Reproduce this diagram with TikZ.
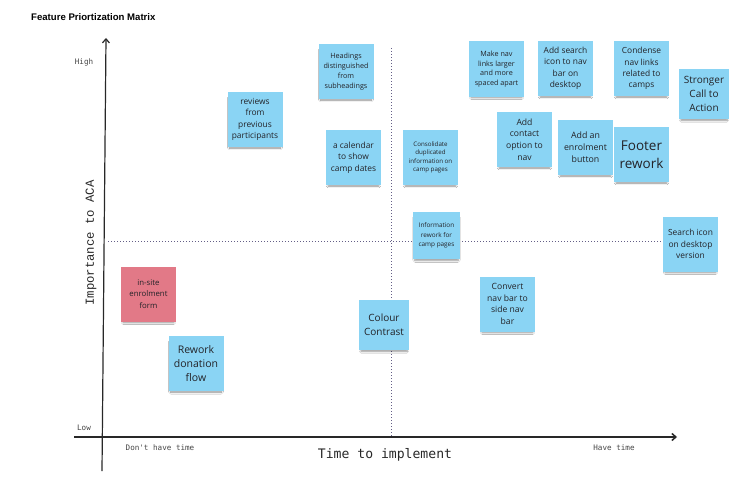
\documentclass[tikz,border=0pt]{standalone}
\usepackage{fontspec}
\setmainfont{Open Sans}
\newfontfamily\titlefont{Liberation Sans}
\newfontfamily\monoA{DejaVu Sans Mono}
\newfontfamily\monoB{Liberation Mono}
\usetikzlibrary{arrows.meta,shadows.blur}
\definecolor{noteblue}{RGB}{138,212,244}
\definecolor{notepink}{RGB}{226,121,135}
\definecolor{notetext}{RGB}{35,35,40}
\definecolor{axisgray}{RGB}{40,40,40}
\definecolor{dotline}{RGB}{100,95,135}
\definecolor{labelgray}{RGB}{70,70,70}
\tikzset{
  note/.style={fill=noteblue, draw=none, minimum width=55pt, minimum height=55pt,
    align=center, text=notetext, inner sep=2pt,
    blur shadow={shadow xshift=0pt, shadow yshift=-3.5pt, shadow scale=0.92, shadow opacity=45, shadow blur steps=6}},
  pinknote/.style={note, fill=notepink},
  axis/.style={draw=axisgray, line width=1.2pt, -{Straight Barb[length=4pt,width=7pt]}},
  divider/.style={draw=dotline, line width=0.6pt, dash pattern=on 1.4pt off 1.6pt},
  small/.style={font=\monoA\fontsize{7.6}{9}\selectfont, text=labelgray},
}
\begin{document}
\begin{tikzpicture}[x=1pt,y=-1pt]
\useasboundingbox (0,0) rectangle (738,495);
\fill[white] (0,0) rectangle (738,495);
% title
\node[anchor=west, inner sep=0pt, font=\titlefont\bfseries\fontsize{9.6}{11}\selectfont] (title) at (31,17) {Feature Priortization Matrix};
% dividers
\coordinate (vdtop) at (391,48);
\coordinate (vdbot) at (391,437);
\coordinate (hdl) at (108,241);
\coordinate (hdr) at (690,241);
\draw[divider] (vdtop) -- (vdbot);
\draw[divider] (hdl) -- (hdr);
% axes
\coordinate (yb) at (102,471);
\coordinate (yt) at (106,38);
\coordinate (xl) at (74,437);
\coordinate (xr) at (677,437);
\draw[axis] (yb) -- (yt);
\draw[axis, line width=1.5pt] (xl) -- (xr);
% axis labels
\node[small] (high) at (84,62) {High};
\node[small] (low) at (84,428) {Low};
\node[small] (dont) at (160,448) {Don't have time};
\node[small] (have) at (614,448) {Have time};
\node[font=\monoA\fontsize{13.1}{15}\selectfont, text=axisgray] (xlab) at (385,455) {Time to implement};
\node[font=\monoB\fontsize{12.3}{14}\selectfont, text=axisgray, rotate=90] (ylab) at (91,243) {Importance to ACA};
% notes
\node[note, font=\fontsize{7.2}{9.8}\selectfont] (headings) at (346,71.5) {Headings\\distinguished\\from\\subheadings};
\node[note, font=\fontsize{8.4}{11.4}\selectfont] (reviews) at (255,119.5) {reviews\\from\\previous\\participants};
\node[note, font=\fontsize{8.4}{11.4}\selectfont] (calendar) at (353.5,157.5) {a calendar\\to show\\camp dates};
\node[note, font=\fontsize{6.2}{8.4}\selectfont] (consol) at (430.5,157.5) {Consolidate\\duplicated\\information on\\camp pages};
\node[note, font=\fontsize{7.2}{9.7}\selectfont] (makenav) at (496.5,69) {Make nav\\links larger\\and more\\spaced apart};
\node[note, font=\fontsize{8.4}{11.5}\selectfont] (addsearch) at (565.5,68.5) {Add search\\icon to nav\\bar on\\desktop};
\node[note, font=\fontsize{8.4}{11.3}\selectfont] (condense) at (641.5,68.5) {Condense\\nav links\\related to\\camps};
\node[note, minimum width=50pt, minimum height=50pt, font=\fontsize{10}{13.7}\selectfont] (stronger) at (704,94) {Stronger\\Call to\\Action};
\node[note, font=\fontsize{8.6}{11.7}\selectfont] (contact) at (524.5,139.5) {Add\\contact\\option to\\nav};
\node[note, font=\fontsize{8.8}{12}\selectfont] (enrolbtn) at (585.5,147.5) {Add an\\enrolment\\button};
\node[note, font=\fontsize{13.5}{18.3}\selectfont] (footer) at (641.5,154.5) {Footer\\rework};
\node[pinknote, font=\fontsize{7.8}{11.7}\selectfont] (insite) at (148.5,294) {in-site\\enrolment\\form};
\node[note, font=\fontsize{10.5}{14.3}\selectfont] (donation) at (196,363.5) {Rework\\donation\\flow};
\node[note, minimum width=50pt, minimum height=50pt, font=\fontsize{10}{13.7}\selectfont] (colour) at (384,325) {Colour\\Contrast};
\node[note, minimum width=47pt, minimum height=47pt, font=\fontsize{6.4}{9.2}\selectfont] (info) at (436.5,235.5) {Information\\rework for\\camp pages};
\node[note, font=\fontsize{8.4}{11.3}\selectfont] (searchicon) at (690.5,244) {Search icon\\on desktop\\version};
\node[note, font=\fontsize{8.6}{11.7}\selectfont] (convert) at (507.5,304) {Convert\\nav bar to\\side nav\\bar};
\end{tikzpicture}
\end{document}
